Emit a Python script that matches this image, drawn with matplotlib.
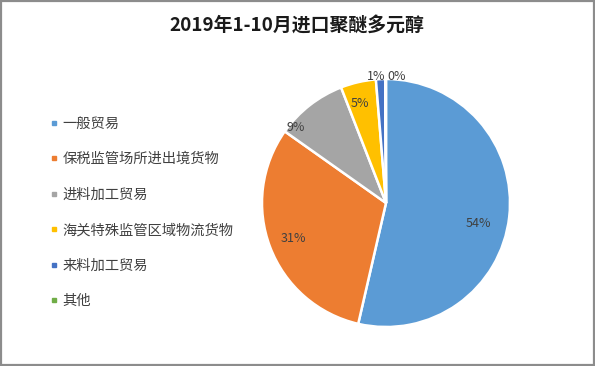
import numpy as np
import matplotlib
matplotlib.use("Agg")
import matplotlib.pyplot as plt
from matplotlib.lines import Line2D
from matplotlib.patches import Rectangle

plt.rcParams['font.family'] = ['Noto Sans CJK SC', 'DejaVu Sans']

categories = ['一般贸易', '保税监管场所进出境货物', '进料加工贸易',
              '海关特殊监管区域物流货物', '来料加工贸易', '其他']
shares = [53.6, 31.2, 9.3, 4.6, 1.2, 0.1]
pct_labels = ['54%', '31%', '9%', '5%', '1%', '0%']
colors = ['#5B9BD5', '#ED7D31', '#A5A5A5', '#FFC000', '#4472C4', '#70AD47']

W, H = 595, 366
fig = plt.figure(figsize=(W / 100, H / 100), dpi=100)
fig.patches.append(Rectangle((0.002, 0.003), 0.996, 0.994, transform=fig.transFigure,
                             fill=False, edgecolor='#8c8c8c', linewidth=1.6))

fig.text(297 / W, 1 - 26 / H, '2019年1-10月进口聚醚多元醇', ha='center', va='center',
         fontsize=13.6, fontweight='bold', color='#1a1a1a')

cx, cy, r = 386, 203, 124
ax = fig.add_axes([(cx - r) / W, (H - cy - r) / H, 2 * r / W, 2 * r / H])
wedges, _ = ax.pie(shares, colors=colors, startangle=90, counterclock=False,
                   radius=1, wedgeprops=dict(edgecolor='white', linewidth=1.8))
ax.set_xlim(-1, 1)
ax.set_ylim(-1, 1)
ax.axis('off')

# label placement along each wedge's mid-angle
dists = [0.76, 0.8, 0.95, 0.83, 1.02, 1.02]
angle_shift = [-6, 0, 12, 2, 2, -5]
for w, lab, d, sh in zip(wedges, pct_labels, dists, angle_shift):
    ang = np.deg2rad((w.theta1 + w.theta2) / 2 + sh)
    ax.text(d * np.cos(ang), d * np.sin(ang), lab, ha='center', va='center',
            fontsize=9, color='#404040')

handles = [Line2D([], [], marker='s', linestyle='none', markersize=3.5,
                  markerfacecolor=c, markeredgecolor=c) for c in colors]
fig.legend(handles, categories, loc='upper left', bbox_to_anchor=(44 / W, 1 - 111 / H),
           frameon=False, fontsize=10.3, handlelength=0.6, handletextpad=0.3,
           labelspacing=1.5, borderaxespad=0, labelcolor='#404040')

fig.savefig('out.png', dpi=100)
